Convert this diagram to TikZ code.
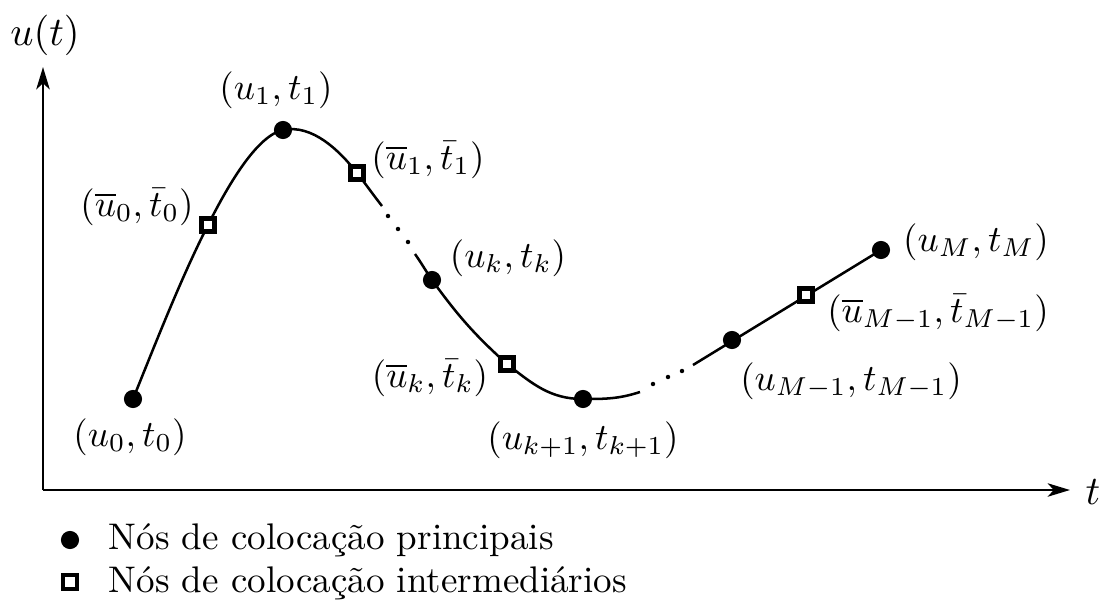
\documentclass[tikz,border=0pt]{standalone}
\usetikzlibrary{arrows.meta}
\begin{document}
\begin{tikzpicture}[x=0.27pt,y=0.27pt,
  curve/.style={line width=0.68pt},
  axis/.style={line width=0.8pt,-{Stealth[length=6pt,width=3.6pt,inset=1.6pt]}},
  main/.style={circle,fill=black,inner sep=0pt,minimum size=4.9pt},
  mid/.style={rectangle,draw=black,fill=white,line width=1.1pt,inner sep=0pt,minimum size=3.5pt},
  ddot/.style={circle,fill=black,inner sep=0pt,minimum size=1.2pt},
  lbl/.style={inner sep=0pt}]
\useasboundingbox (0,0) rectangle (1105,601);
% axes
\coordinate (O) at (43,111);
\coordinate (Ytop) at (43,534);
\coordinate (Xend) at (1070,111);
\draw[axis] (O) -- (Ytop);
\draw[axis] (O) -- (Xend);
\node[lbl] (ylab) at (45,566) {\fontsize{11}{13}\selectfont$u(t)$};
\node[lbl] (xlab) at (1093,109) {\fontsize{11}{13}\selectfont$t$};
% points
\coordinate (P0) at (133,202);
\coordinate (S0) at (208,376);
\coordinate (P1) at (283,471);
\coordinate (S1) at (357,428);
\coordinate (B1) at (382,395);
\coordinate (R1) at (415,347);
\coordinate (Pk) at (432,321);
\coordinate (Sk) at (507,237);
\coordinate (Pk1) at (583,202);
\coordinate (B2) at (640,209);
\coordinate (R2) at (693,236);
\coordinate (PM1) at (732,261);
\coordinate (SM1) at (806,306);
\coordinate (PM) at (881,351);
% curve
\draw[curve] (P0) .. controls (155.5,257.6) and (180.8,322.5) .. (S0)
  .. controls (221.6,402.7) and (253.7,464.8) .. (P1)
  .. controls (312.3,477.2) and (339.8,450.1) .. (S1)
  to[out=-52,in=128] (B1);
\draw[curve] (R1) to[out=-55,in=124] (Pk) to[out=-54,in=138] (Sk)
  to[out=-38,in=180] (Pk1) to[out=0,in=-162] (B2);
\draw[curve] (R2) -- (PM);
% dots
\node[ddot] (d1) at (388,385) {};
\node[ddot] (d2) at (398,372) {};
\node[ddot] (d3) at (408,359) {};
\node[ddot] (d4) at (653,217) {};
\node[ddot] (d5) at (668,224) {};
\node[ddot] (d6) at (682,230) {};
% markers
\node[main] (m0) at (P0) {};
\node[main] (m1) at (P1) {};
\node[main] (mk) at (Pk) {};
\node[main] (mk1) at (Pk1) {};
\node[main] (mM1) at (PM1) {};
\node[main] (mM) at (PM) {};
\node[mid] (s0) at (S0) {};
\node[mid] (s1) at (S1) {};
\node[mid] (sk) at (Sk) {};
\node[mid] (sM1) at (SM1) {};
% labels
\node[lbl] (l0) at (130,164) {$(u_0,t_0)$};
\node[lbl] (ls0) at (137,394) {$(\overline{u}_0,\bar{t}_0)$};
\node[lbl] (l1) at (276,511) {$(u_1,t_1)$};
\node[lbl] (ls1) at (428,441) {$(\overline{u}_1,\bar{t}_1)$};
\node[lbl] (lk) at (508,343) {$(u_k,t_k)$};
\node[lbl] (lsk) at (430,223) {$(\overline{u}_k,\bar{t}_k)$};
\node[lbl] (lk1) at (583,161) {$(u_{k+1},t_{k+1})$};
\node[lbl] (lM1) at (851,220) {$(u_{M-1},t_{M-1})$};
\node[lbl] (lsM1) at (938,288) {$(\overline{u}_{M-1},\bar{t}_{M-1})$};
\node[lbl] (lM) at (976,359) {$(u_M,t_M)$};
% legend
\node[main] (legc) at (70,61) {};
\node[mid,minimum size=3.9pt] (legs) at (70,19) {};
\node[lbl,anchor=west] (legct) at (108,61) {Nós de colocação principais};
\node[lbl,anchor=west] (legst) at (108,18) {Nós de colocação intermediários};
\end{tikzpicture}
\end{document}
